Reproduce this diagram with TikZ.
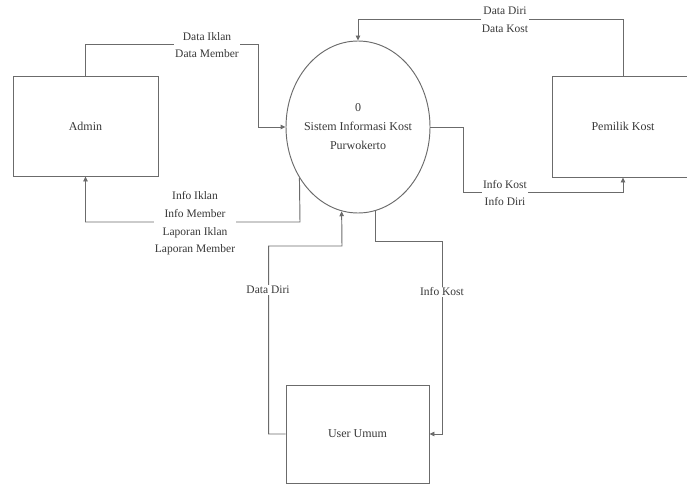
\documentclass[tikz,border=0pt]{standalone}
\usepackage{fontspec}
\setmainfont{Liberation Serif}
\usetikzlibrary{shapes.geometric,arrows.meta}
\begin{document}
\begin{tikzpicture}[x=1pt,y=-1pt,
  line/.style={draw=black!58, line width=0.95pt},
  flow/.style={line, -{Triangle[length=5pt,width=4.5pt]}},
  ent/.style={draw=black!58, line width=0.95pt, minimum width=145pt, minimum height=100pt, inner sep=0pt, font=\fontsize{12}{14}\selectfont, text=black!78},
  lbl/.style={fill=white, inner sep=1pt, align=center, font=\fontsize{11.5}{17.7}\selectfont, text=black!78}]
\useasboundingbox (0,0) rectangle (687,484);
\node[ent] (admin) at (85.5,126) {Admin};
\node[ent, minimum width=142pt, minimum height=101pt] (pemilik) at (623,126.5) {Pemilik Kost};
\node[ent, minimum width=143pt, minimum height=98pt] (user) at (357.5,434) {User Umum};
\node[ellipse, draw=black!58, line width=0.95pt, minimum width=144pt, minimum height=172pt, inner sep=0pt] (sys) at (358,127) {};
\node[align=center, font=\fontsize{12}{19}\selectfont, text=black!78] (systext) at (sys.center) {0\\Sistem Informasi Kost\\Purwokerto};

\coordinate (a1) at (258,44);
\draw[flow] (admin.north) |- (a1) |- (sys.west);
\coordinate (a2) at (300,222);
\draw[flow] (sys.221.3) -- (a2) -| (admin.south);
\coordinate (a3) at (623,19);
\draw[flow] (pemilik.north) -- (a3) -| (sys.north);
\coordinate (a4) at (463,192);
\draw[flow] (sys.east) -| (a4) -| (pemilik.south);
\coordinate (a5) at (342,246);
\draw[flow] (user.west) -- ++(-17,0) |- (a5) -- (sys.259.2);
\coordinate (a6) at (442,241);
\draw[flow] (sys.282.9) |- (a6) |- (user.east);

\node[lbl] (l1) at (207,45) {Data Iklan\\Data Member};
\node[lbl] (l2) at (195,223.5) {Info Iklan\\Info Member\\Laporan Iklan\\Laporan Member};
\node[lbl] (l3) at (505,19.5) {Data Diri\\Data Kost};
\node[lbl] (l4) at (505,193) {Info Kost\\Info Diri};
\node[lbl] (l5) at (268,290) {Data Diri};
\node[lbl] (l6) at (442,292) {Info Kost};
\end{tikzpicture}
\end{document}
